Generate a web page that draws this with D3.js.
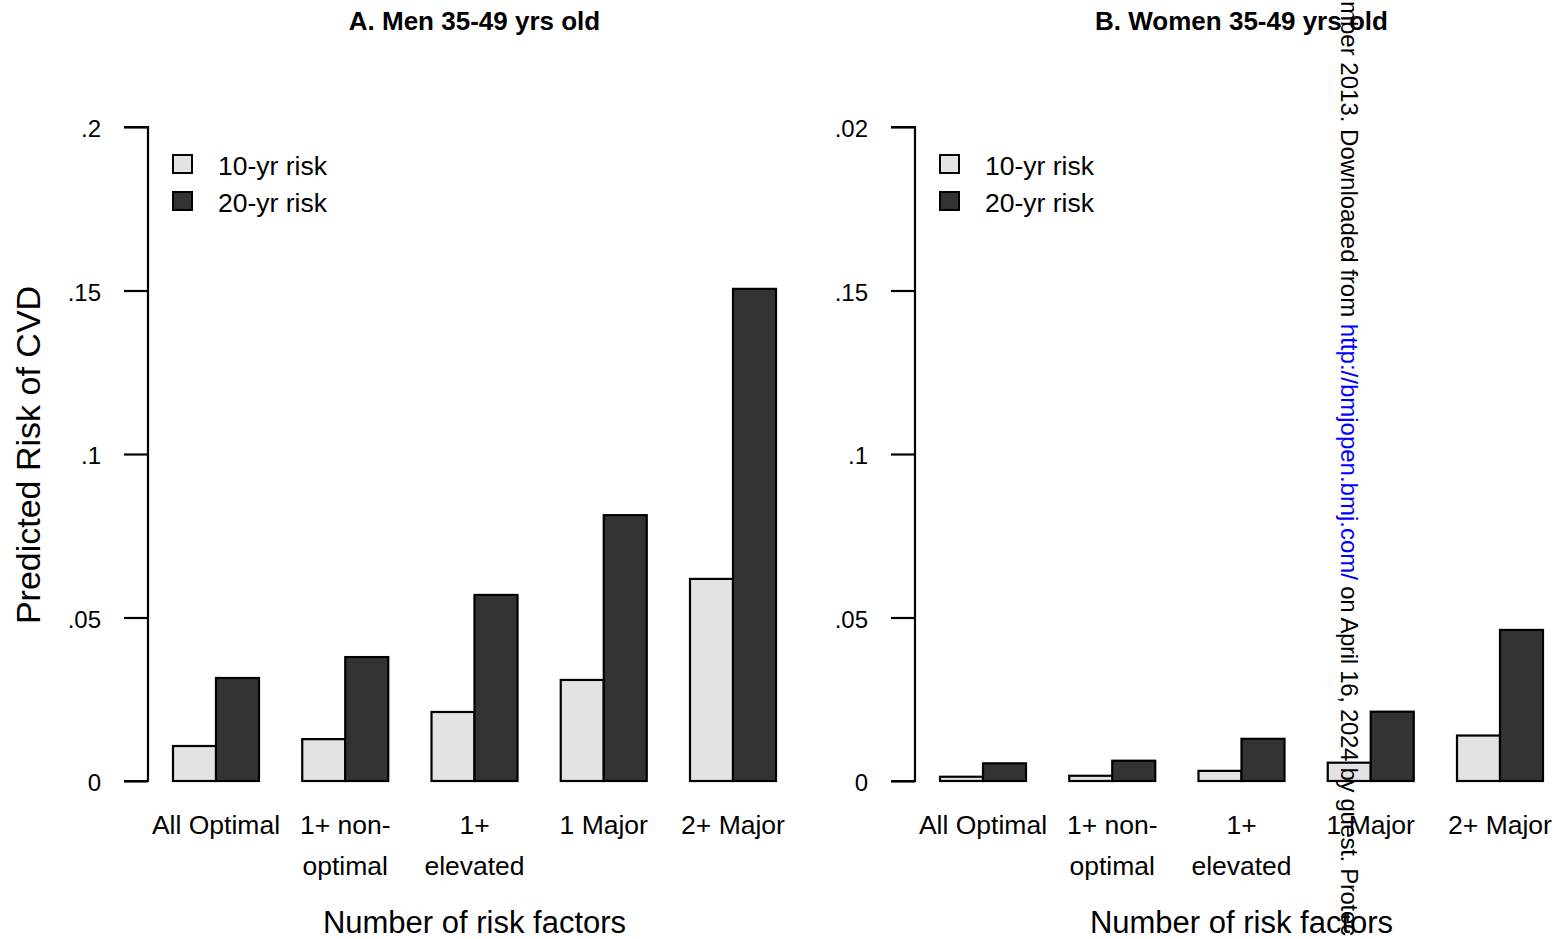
<!DOCTYPE html>
<html>
<head>
<meta charset="utf-8">
<script src="https://cdn.jsdelivr.net/npm/d3@7"></script>
<style>
  html, body { margin: 0; padding: 0; background: #fff; }
  svg { display: block; }
  text { font-family: "Liberation Sans", Arial, sans-serif; fill: #000; }
</style>
</head>
<body>
<svg id="chart" width="1558" height="939"></svg>
<script>
// Risk-factor groups along the x axis (two-line labels)
const categories = ["All Optimal", "1+ non-optimal", "1+ elevated", "1 Major", "2+ Major"];
const categoryLines = [["All Optimal"], ["1+ non-", "optimal"], ["1+", "elevated"], ["1 Major"], ["2+ Major"]];
const seriesNames = ["10-yr risk", "20-yr risk"];

// Predicted CVD risk, men aged 35-49
const men10 = [0.0107, 0.0128, 0.0211, 0.0309, 0.0618];
const men20 = [0.0315, 0.0379, 0.0569, 0.0813, 0.1505];
// Predicted CVD risk, women aged 35-49
const women10 = [0.0013, 0.0016, 0.0031, 0.0056, 0.0139];
const women20 = [0.0054, 0.0062, 0.0129, 0.0212, 0.0462];

// Y-axis ticks and their printed labels
const tickValues = [0, 0.05, 0.1, 0.15, 0.2];
const menTickLabels = ["0", ".05", ".1", ".15", ".2"];
const womenTickLabels = ["0", ".05", ".1", ".15", ".02"];

const panels = [
  { title: "A. Men 35-49 yrs old", s10: men10, s20: men20, ticks: menTickLabels, x0: 0 },
  { title: "B. Women 35-49 yrs old", s10: women10, s20: women20, ticks: womenTickLabels, x0: 767 }
];

const colors = ["#e3e3e3", "#333333"];
const svg = d3.select("#chart");

const y = d3.scaleLinear().domain([0, 0.2]).range([781, 127]);

panels.forEach(p => {
  const g = svg.append("g").attr("transform", `translate(${p.x0},0)`);
  const axisX = 148;

  const x = d3.scaleBand().domain(categories).range([173, 776])
    .paddingInner(1 - 86 / 129.25).paddingOuter(0);
  const xs = d3.scaleBand().domain(seriesNames).range([0, x.bandwidth()]);

  // Bars
  const rows = categories.map((c, i) => ({ c, v: [p.s10[i], p.s20[i]] }));
  const grp = g.selectAll(".grp").data(rows).enter().append("g")
    .attr("transform", d => `translate(${x(d.c)},0)`);
  grp.selectAll("rect").data(d => d.v.map((v, k) => ({ v, k }))).enter().append("rect")
    .attr("x", d => xs(seriesNames[d.k]))
    .attr("width", xs.bandwidth())
    .attr("y", d => y(d.v))
    .attr("height", d => y(0) - y(d.v))
    .attr("fill", d => colors[d.k])
    .attr("stroke", "#000")
    .attr("stroke-width", 2.2);

  // Y axis
  const yAxis = d3.axisLeft(y).tickValues(tickValues)
    .tickFormat((d, i) => p.ticks[i]).tickSize(24).tickPadding(23);
  const ax = g.append("g").attr("transform", `translate(${axisX},0)`).call(yAxis);
  ax.select(".domain").attr("d", `M-24,${y(0.2)}H0V${y(0)}H-24`).attr("stroke-width", 2.2).attr("fill", "none");
  ax.selectAll(".tick line").attr("stroke-width", 2.2);
  ax.selectAll(".tick text").attr("font-size", 24).attr("font-family", "Liberation Sans, Arial, sans-serif")
    .attr("dy", "0.4em");

  // Category labels
  const lab = g.selectAll(".cat").data(categories).enter().append("text")
    .attr("text-anchor", "middle").attr("font-size", 26.5);
  lab.each(function(c, i) {
    const cx = x(c) + x.bandwidth() / 2;
    categoryLines[i].forEach((line, j) => {
      d3.select(this).append("tspan").attr("x", cx).attr("y", 834 + j * 41).text(line);
    });
  });

  // Axis title
  g.append("text").attr("x", (x.range()[0] + x.range()[1]) / 2).attr("y", 933)
    .attr("text-anchor", "middle").attr("font-size", 31).text("Number of risk factors");

  // Panel title
  g.append("text").attr("x", (x.range()[0] + x.range()[1]) / 2).attr("y", 30)
    .attr("text-anchor", "middle").attr("font-size", 26).attr("font-weight", "bold")
    .text(p.title);

  // Legend
  const leg = g.append("g").attr("transform", "translate(173,155)");
  seriesNames.forEach((s, k) => {
    leg.append("rect").attr("x", 0).attr("y", k * 37).attr("width", 19).attr("height", 18)
      .attr("fill", colors[k]).attr("stroke", "#000").attr("stroke-width", 2);
    leg.append("text").attr("x", 45).attr("y", k * 37 + 20).attr("font-size", 26.5).text(s);
  });
});

// Y axis title
svg.append("text").attr("transform", "translate(40,455) rotate(-90)")
  .attr("text-anchor", "middle").attr("font-size", 34).text("Predicted Risk of CVD");

// Vertical download notice printed along the page edge
const pre = "mber 2013. Downloaded from ";
const url = "http://bmjopen.bmj.com/";
const post = " on April 16, 2024 by guest. Protec";
function measure(str) {
  const t = svg.append("text").attr("font-size", 24).style("white-space", "pre").text(str);
  const w = t.node().getComputedTextLength();
  t.remove();
  return w;
}
const preLen = measure(pre), urlLen = measure(url), postLen = measure(post);
const start = Math.max(1, 320 - preLen);
const room = 936 - (start + preLen + urlLen);
const note = svg.append("text").attr("transform", `translate(1341,${start}) rotate(90)`)
  .attr("font-size", 24).style("white-space", "pre");
note.append("tspan").text(pre);
note.append("tspan").attr("fill", "#0000ff").style("fill", "#0000ff").text(url);
const tail = note.append("tspan").text(post);
if (postLen > room) tail.attr("textLength", room).attr("lengthAdjust", "spacing");
</script>
</body>
</html>
